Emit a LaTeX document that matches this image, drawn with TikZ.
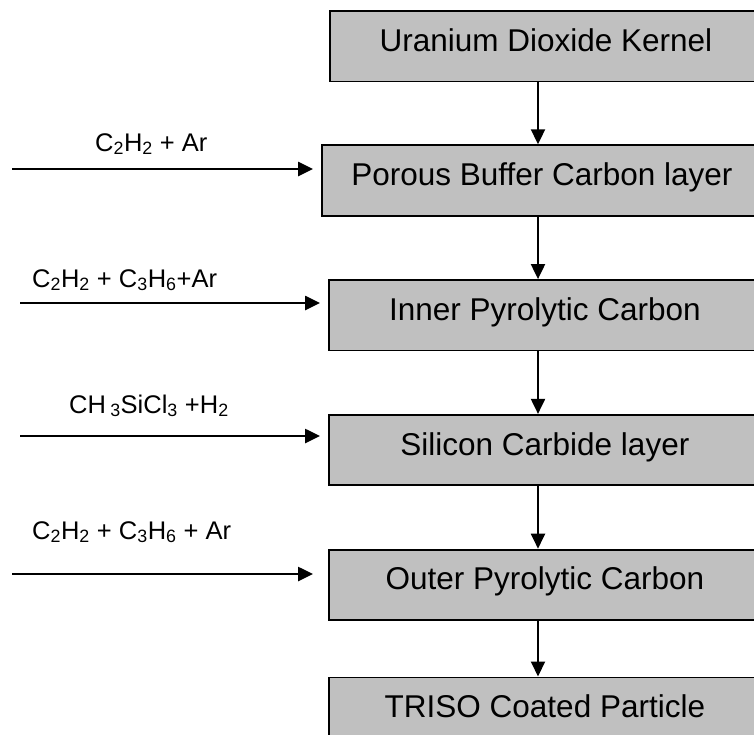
\documentclass[tikz,border=0pt]{standalone}
\usepackage{fontspec}
\setmainfont{Liberation Sans}
\usetikzlibrary{arrows.meta,positioning}
\definecolor{grisclaro}{HTML}{C0C0C0}

\begin{document}
\begin{tikzpicture}[x=1pt, y=-1pt, >={Triangle[length=15pt,width=14pt]},
      capa/.style={draw, line width=1.8pt, fill=grisclaro, minimum width=432pt,
                   minimum height=70.5pt, text height=22pt, text depth=12pt,
                   inner sep=0pt, font=\fontsize{31.5}{37}\selectfont},
      gas/.style={anchor=base west, inner sep=0pt, font=\fontsize{25.5}{30}\selectfont},
      flujo/.style={->, line width=2pt},
      entrada/.style={->, line width=2.6pt, shorten >=8pt}]
    \useasboundingbox (0,0) rectangle (754,734);
    \clip (0,0) rectangle (754,734);
    % capas
    \node[capa, anchor=north west] (kernel) at (329,10) {Uranium Dioxide Kernel};
    \node[capa, minimum width=440pt, below=62pt of kernel.south west, anchor=north west, xshift=-8pt] (buffer) {Porous Buffer Carbon layer};
    \node[capa, below=62.5pt of buffer.south west, anchor=north west, xshift=7pt] (ipyc) {Inner Pyrolytic Carbon};
    \node[capa, below=62.5pt of ipyc.south west, anchor=north west] (sic) {Silicon Carbide layer};
    \node[capa, below=62.5pt of sic.south west, anchor=north west] (opyc) {Outer Pyrolytic Carbon};
    \node[capa, below=55.5pt of opyc.south west, anchor=north west] (triso) {TRISO Coated Particle};
    % gases
    \node[gas] (gasA) at (95,151) {C\textsubscript{2}H\textsubscript{2} + Ar};
    \node[gas] (gasB) at (32,287) {C\textsubscript{2}H\textsubscript{2} + C\textsubscript{3}H\textsubscript{6}+Ar};
    \node[gas] (gasC) at (69,413) {CH\,\textsubscript{3}SiCl\textsubscript{3} +H\textsubscript{2}};
    \node[gas] (gasD) at (32,539) {C\textsubscript{2}H\textsubscript{2} + C\textsubscript{3}H\textsubscript{6} + Ar};
    \coordinate (inA) at (12,169);
    \coordinate (inB) at (20,303);
    \coordinate (inC) at (20,436);
    \coordinate (inD) at (12,574);
    \coordinate (eje) at (538,0);
    \draw[flujo] (kernel.south -| eje) -- (buffer.north -| eje);
    \draw[flujo] (buffer.south -| eje) -- (ipyc.north -| eje);
    \draw[flujo] (ipyc.south -| eje) -- (sic.north -| eje);
    \draw[flujo] (sic.south -| eje) -- (opyc.north -| eje);
    \draw[flujo] (opyc.south -| eje) -- (triso.north -| eje);
    \draw[entrada] (inA) -- (buffer.west |- inA);
    \draw[entrada] (inB) -- (ipyc.west |- inB);
    \draw[entrada] (inC) -- (sic.west |- inC);
    \draw[entrada, shorten >=15pt] (inD) -- (opyc.west |- inD);
  \end{tikzpicture}
\end{document}
